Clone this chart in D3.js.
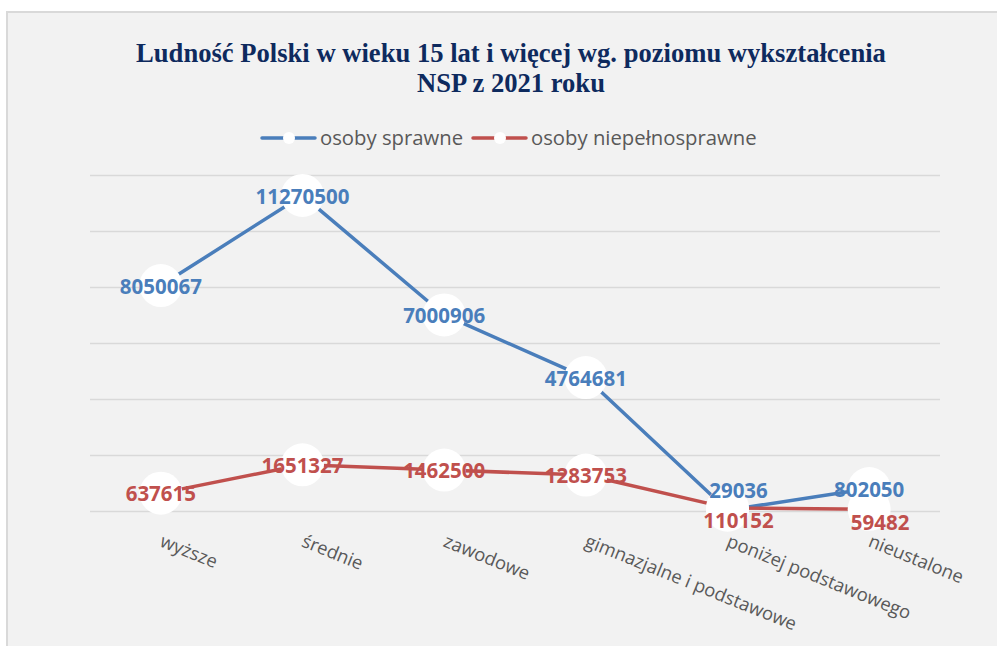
<!DOCTYPE html>
<html>
<head>
<meta charset="utf-8">
<script src="https://cdn.jsdelivr.net/npm/d3@7"></script>
<style>
  html, body { margin: 0; padding: 0; background: #fff; }
  svg { display: block; }
  .grid line { stroke: #d9d9d9; stroke-width: 1.3; }
  .grid path { display: none; }
  .cat-label { font-family: "Open Sans", sans-serif; font-size: 18.4px; fill: #595959; }
  .legend-text { font-family: "Open Sans", sans-serif; font-size: 20.3px; fill: #595959; }
  .val { font-family: "Open Sans", sans-serif; font-size: 20.5px; font-weight: bold; }
</style>
</head>
<body>
<div class="chart"></div>
<script>
'use strict';

// dane
var kategorie = ['wyższe', 'średnie', 'zawodowe', 'gimnazjalne i podstawowe', 'poniżej podstawowego', 'nieustalone'];
var sprawne = [8050067, 11270500, 7000906, 4764681, 29036, 802050];
var niepelnosprawne = [637615, 1651327, 1462500, 1283753, 110152, 59482];
var nazwySerii = ['osoby sprawne', 'osoby niepełnosprawne'];
var yTicks = [0, 2000000, 4000000, 6000000, 8000000, 10000000, 12000000];
var tytul = ['Ludność Polski w wieku 15 lat i więcej wg. poziomu wykształcenia', 'NSP z 2021 roku'];

var W = 997, H = 646;
var kolory = ['#4a7ebb', '#c0504d'];

var svg = d3.select('.chart').append('svg').attr('width', W).attr('height', H);

// tło wykresu
svg.append('rect').attr('x', 7).attr('y', 12).attr('width', W).attr('height', H)
  .attr('fill', '#f2f2f2').attr('stroke', '#d9d9d9').attr('stroke-width', 2);

// tytuł
svg.append('text').attr('x', 511).attr('y', 62)
  .attr('text-anchor', 'middle')
  .style('font-family', '"Liberation Serif", "Times New Roman", serif')
  .style('font-weight', 'bold').style('font-size', '26.6px').style('fill', '#0e2a5e')
  .selectAll('tspan').data(tytul).enter().append('tspan')
  .attr('x', 511).attr('dy', function (d, i) { return i ? 30 : 0; })
  .text(function (d) { return d; });

// skale
var x = d3.scaleBand().domain(kategorie).range([90, 940]).padding(0);
var y = d3.scaleLinear().domain([0, 12000000]).range([511, 175]);
function cx(d) { return x(d) + x.bandwidth() / 2; }

// siatka
svg.append('g').attr('class', 'grid')
  .attr('transform', 'translate(90,0)')
  .call(d3.axisLeft(y).tickValues(yTicks).tickSize(-850).tickFormat(''))
  .call(function (g) { g.selectAll('.tick line').attr('x1', 0).attr('x2', 850); });

// legenda
var legend = svg.append('g').attr('class', 'legend');
var legX = [262, 473];
nazwySerii.forEach(function (n, i) {
  var g = legend.append('g').attr('transform', 'translate(' + legX[i] + ',138)');
  g.append('line').attr('x1', 0).attr('x2', 53).attr('y1', 0).attr('y2', 0)
    .attr('stroke', kolory[i]).attr('stroke-width', 3.5).attr('stroke-linecap', 'round');
  g.append('circle').attr('cx', 27).attr('cy', 0).attr('r', 6).attr('fill', '#fff');
  g.append('text').attr('class', 'legend-text').attr('x', 58).attr('y', 0)
    .attr('dy', '0.35em').text(n);
});

var serie = [sprawne, niepelnosprawne];

var line = d3.line()
  .x(function (d, i) { return cx(kategorie[i]); })
  .y(function (d) { return y(d); });

serie.forEach(function (s, k) {
  svg.append('path').datum(s).attr('d', line)
    .attr('fill', 'none').attr('stroke', kolory[k]).attr('stroke-width', 3.5)
    .attr('stroke-linejoin', 'round');
});

serie.forEach(function (s, k) {
  svg.append('g').selectAll('circle').data(s).enter().append('circle')
    .attr('cx', function (d, i) { return cx(kategorie[i]); })
    .attr('cy', function (d) { return y(d); })
    .attr('r', 21.5).attr('fill', '#fff');
});

// etykiety wartości - przy nachodzących punktach przesunięte
serie.forEach(function (s, k) {
  svg.append('g').selectAll('text').data(s).enter().append('text')
    .attr('class', 'val')
    .attr('text-anchor', 'middle')
    .attr('dy', '0.35em')
    .style('fill', kolory[k])
    .each(function (d, i) {
      var yb = y(sprawne[i]), yr = y(niepelnosprawne[i]);
      var blisko = Math.abs(yb - yr) < 30;
      var px = cx(kategorie[i]), py = y(d) + 1;
      if (blisko && k === 1) { py = yr + 13; px += 11; }
      if (blisko && k === 0 && yb > yr - 17) { py = yr - 17; px += 11; }
      d3.select(this).attr('x', px).attr('y', py);
    })
    .text(function (d) { return d; });
});

// etykiety kategorii
svg.append('g').selectAll('text').data(kategorie).enter().append('text')
  .attr('class', 'cat-label')
  .attr('transform', function (d) { return 'translate(' + (cx(d) - 2) + ',546) rotate(22)'; })
  .text(function (d) { return d; });
</script>
</body>
</html>
